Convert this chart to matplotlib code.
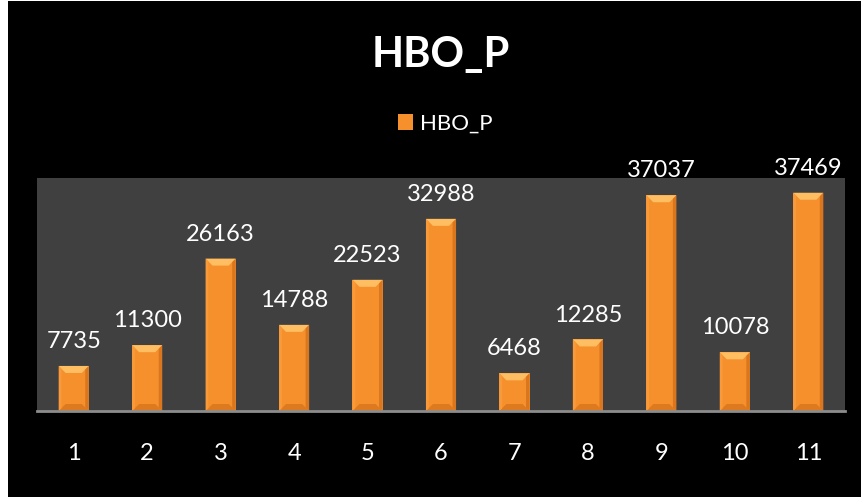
import matplotlib
matplotlib.use("Agg")
import matplotlib.pyplot as plt
from matplotlib.patches import Rectangle, Polygon

categories = ["1", "2", "3", "4", "5", "6", "7", "8", "9", "10", "11"]
values = [7735, 11300, 26163, 14788, 22523, 32988, 6468, 12285, 37037, 10078, 37469]
series_name = "HBO_P"
title = "HBO_P"

plt.rcParams['font.family'] = ['Lato', 'DejaVu Sans']

W, H = 861, 499
fig = plt.figure(figsize=(W / 100, H / 100), dpi=100, facecolor='white')
fig.add_artist(Rectangle((8 / W, 2 / H), 1 - 8 / W, 1 - 3 / H, transform=fig.transFigure,
                         facecolor='black', edgecolor='none', zorder=0))

ax = fig.add_axes([37 / W, 88 / H, (845 - 37) / W, (411 - 178) / H])
ax.set_facecolor('#404040')
ax.set_zorder(1)
ymax = 40000
ax.set_ylim(0, ymax)
x = list(range(1, len(values) + 1))
ax.set_xlim(0.5, len(values) + 0.5)

bw = 0.41
bars = ax.bar(x, values, width=bw, color='#F5902C', edgecolor='none', zorder=2, label=series_name)

# bevel effect
ax_h_px = (411 - 178)
ax_w_px = (845 - 37)
dy = 7 * ymax / ax_h_px
dx = 7 * len(values) / ax_w_px
for xi, v in zip(x, values):
    l, r = xi - bw / 2, xi + bw / 2
    # top bevel (light)
    ax.add_patch(Polygon([(l, v), (r, v), (r - dx, v - dy), (l + dx, v - dy)],
                         closed=True, facecolor='#FFBE62', edgecolor='none', zorder=3))
    # bottom bevel (darker)
    ax.add_patch(Polygon([(l, 0), (r, 0), (r - dx, dy), (l + dx, dy)],
                         closed=True, facecolor='#DD7A20', edgecolor='none', zorder=3))
    # right side shade
    ax.add_patch(Polygon([(r, v), (r, 0), (r - dx * 0.5, dy * 0.5), (r - dx * 0.5, v - dy * 0.5)],
                         closed=True, facecolor='#D9761E', edgecolor='none', zorder=3))
    # left side light
    ax.add_patch(Polygon([(l, v), (l, 0), (l + dx * 0.4, dy * 0.4), (l + dx * 0.4, v - dy * 0.4)],
                         closed=True, facecolor='#F99A3A', edgecolor='none', zorder=3))
    ax.annotate(f"{v}", (xi, v), xytext=(0, 10), textcoords='offset points',
                ha='center', va='bottom', color='white', fontsize=17, clip_on=False, zorder=4)

for s in ['top', 'right', 'left']:
    ax.spines[s].set_visible(False)
ax.spines['bottom'].set_color('#8C8C8C')
ax.spines['bottom'].set_linewidth(2)
ax.spines['bottom'].set_zorder(5)
ax.set_yticks([])
ax.set_xticks(x)
ax.set_xticklabels(categories)
ax.tick_params(axis='x', length=0, pad=23, labelsize=17, labelcolor='white')

fig.text(441 / W, (499 - 67) / H, title, ha='center', va='baseline', color='white',
         fontsize=30, fontweight='bold')

leg = fig.legend(handles=[bars], labels=[series_name], loc='center',
                 bbox_to_anchor=(445 / W, (499 - 124) / H), frameon=False,
                 fontsize=16, handlelength=0.7, handleheight=0.7, handletextpad=0.3,
                 labelcolor='white')

fig.savefig('out.png', dpi=100, facecolor=fig.get_facecolor())
